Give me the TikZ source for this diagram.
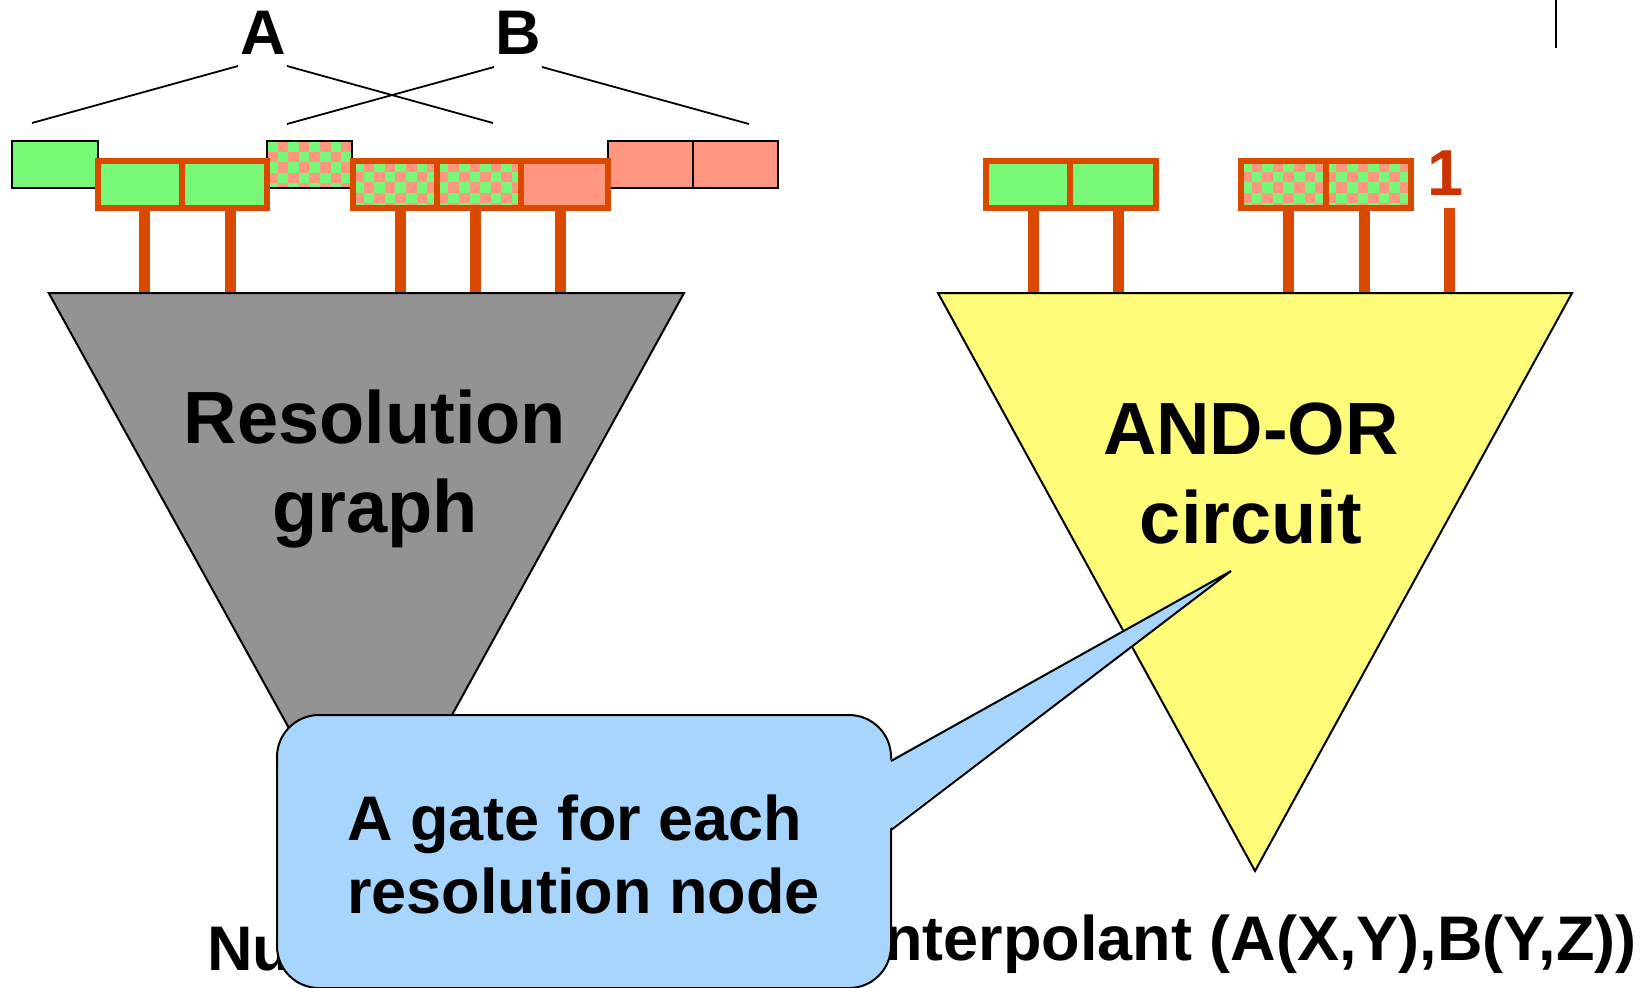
\documentclass[tikz,border=0pt]{standalone}
\usepackage{fontspec}
\setmainfont{Liberation Sans}
\definecolor{grn}{RGB}{119,249,119}
\definecolor{salm}{RGB}{255,150,128}
\definecolor{orng}{RGB}{217,73,0}
\definecolor{gry}{RGB}{147,147,147}
\definecolor{ylw}{RGB}{255,252,122}
\definecolor{calblue}{RGB}{168,213,252}
\definecolor{onered}{RGB}{204,51,0}
\newcommand\checkfill[4]{%
  \begin{scope}
    \clip (#1,#2) rectangle (#3,#4);
    \fill[salm] (#1,#2) rectangle (#3,#4);
    \foreach \i in {0,...,17}{\foreach \j in {0,...,4}{%
      \pgfmathtruncatemacro\k{mod(\i+\j,2)}%
      \ifnum\k=0 \fill[grn] ({#1+\i*10.6},{#2+\j*10.6}) rectangle ++(10.6,10.6);\fi
    }}
  \end{scope}}
\tikzset{
  blkbox/.style={draw=black, line width=1pt},
  orngbox/.style={draw=orng, line width=2.6pt},
  stemline/.style={draw=orng, line width=5.5pt},
  link/.style={draw=black, line width=0.9pt},
  lbl/.style={inner sep=0pt, font=\bfseries\fontsize{31.5}{36}\selectfont},
  big/.style={inner sep=0pt, font=\bfseries\fontsize{37}{44}\selectfont},
  tri/.style={draw=black, line width=1pt, line join=miter},
}
\begin{document}
\begin{tikzpicture}[x=0.5pt,y=-0.5pt]
\useasboundingbox (0,0) rectangle (1652,987);

% labels A, B and their lines
\node[lbl, anchor=base] (A) at (263,54) {A};
\node[lbl, anchor=base] (B) at (518,54) {B};
\coordinate (a1) at (238,66);  \coordinate (a0) at (32,123);
\coordinate (a2) at (287,66);  \coordinate (a3) at (493,123);
\coordinate (b1) at (494,67);  \coordinate (b0) at (287,124);
\coordinate (b2) at (542,67);  \coordinate (b3) at (749,124);
\draw[link] (a1) -- (a0);
\draw[link] (a2) -- (a3);
\draw[link] (b1) -- (b0);
\draw[link] (b2) -- (b3);

% stems (drawn under triangles)
\foreach \x in {144,230,400,475,560,1033,1118,1288,1364} {
  \draw[stemline] (\x,208) -- (\x,293);
}
\draw[stemline] (1449,208) -- (1449,293);

% triangles
\draw[tri, fill=gry] (48.75,293) -- (684,293) -- (367,869.5) -- cycle;
\draw[tri, fill=ylw] (938,293) -- (1572,293) -- (1255,871) -- cycle;
\node[big, anchor=base] (res1) at (375,443) {Resolution};
\node[big, anchor=base] (res2) at (375,532) {graph};
\node[big, anchor=base] (and1) at (1251,454) {AND-OR};
\node[big, anchor=base] (and2) at (1251,543) {circuit};

% top row boxes with black borders
\fill[grn] (12,141) rectangle (98,188);
\draw[blkbox] (12,141) rectangle (98,188);
\checkfill{267}{141}{352}{188}
\draw[blkbox] (267,141) rectangle (352,188);
\fill[salm] (608,141) rectangle (778,188);
\draw[blkbox] (608,141) rectangle (778,188);
\draw[blkbox] (693,141) -- (693,188);

% orange-bordered groups (left)
\fill[grn] (98,161) rectangle (267,208);
\draw[orngbox] (98,161) rectangle (267,208);
\draw[orngbox] (182,161) -- (182,208);
\checkfill{353}{161}{521}{208}
\fill[salm] (521,161) rectangle (608,208);
\draw[orngbox] (353,161) rectangle (608,208);
\draw[orngbox] (437,161) -- (437,208);
\draw[orngbox] (521,161) -- (521,208);

% orange-bordered groups (right)
\fill[grn] (986,161) rectangle (1156,208);
\draw[orngbox] (986,161) rectangle (1156,208);
\draw[orngbox] (1070,161) -- (1070,208);
\checkfill{1241}{161}{1411}{208}
\draw[orngbox] (1241,161) rectangle (1411,208);
\draw[orngbox] (1326,161) -- (1326,208);
\node[inner sep=0pt, anchor=base, text=onered, font=\bfseries\fontsize{32.5}{38}\selectfont] (one) at (1446,195) {1};

% small black mark top right
\draw[link] (1556,0) -- (1556,48);

% bottom text (partly hidden by callout)
\node[lbl, anchor=base west] (nu) at (207,970) {Nu};
\node[lbl, anchor=base east] (interp) at (1637,960) {Interpolant (A(X,Y),B(Y,Z))};

% callout
\coordinate (p1) at (891,761);
\coordinate (tip) at (1231,571);
\coordinate (p2) at (891,830);
\draw[fill=calblue, line width=1pt, rounded corners=21pt] (277,715) rectangle (891,988);
\fill[calblue] (888,761) -- (tip) -- (888,830) -- cycle;
\draw[line width=1pt, line join=miter] (p1) -- (tip) -- (p2);
\node[lbl, anchor=base west] (c1) at (347,840) {A gate for each};
\node[lbl, anchor=base west] (c2) at (347,913) {resolution node};
\end{tikzpicture}
\end{document}
